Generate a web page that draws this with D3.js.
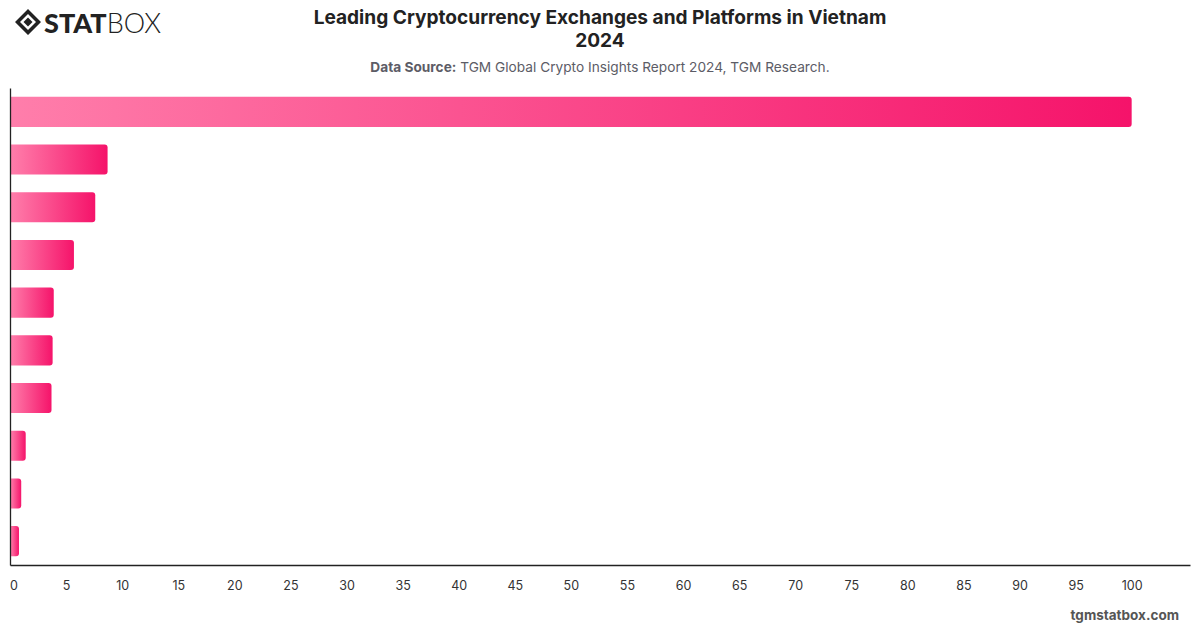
<!DOCTYPE html>
<html><head><meta charset="utf-8">
<script src="https://cdn.jsdelivr.net/npm/d3@7"></script>
<style>body{margin:0;background:#fff}svg{display:block}</style>
</head><body>
<svg id="c" width="1200" height="628"></svg>
<script>
const categories = ["Exchange 1","Exchange 2","Exchange 3","Exchange 4","Exchange 5","Exchange 6","Exchange 7","Exchange 8","Exchange 9","Exchange 10"];
const values = [100, 8.7, 7.6, 5.7, 3.9, 3.8, 3.7, 1.4, 1.0, 0.8];
const xTicks = [0,5,10,15,20,25,30,35,40,45,50,55,60,65,70,75,80,85,90,95,100];
const titleLines = ["Leading Cryptocurrency Exchanges and Platforms in Vietnam","2024"];
const sourceLabel = "Data Source:";
const sourceText = " TGM Global Crypto Insights Report 2024, TGM Research.";
const footer = "tgmstatbox.com";

const svg = d3.select("#c");
const font = "Inter, 'Noto Sans', sans-serif";
const m = {left:10, right:1190, top:88, bottom:565};
const x = d3.scaleLinear().domain([0,105.2]).range([m.left, m.right]);
const y = d3.scaleBand().domain(categories).range([m.top, m.bottom]).paddingInner(0.37).paddingOuter(0.185);

const defs = svg.append("defs");
const g = defs.append("linearGradient").attr("id","barGrad").attr("x1","0").attr("x2","1").attr("y1","0").attr("y2","0");
g.append("stop").attr("offset","0").attr("stop-color","#ff7eab");
g.append("stop").attr("offset","1").attr("stop-color","#f5136a");

// bars: square left, rounded right
const r = 3;
svg.append("g").selectAll("path").data(values).join("path")
  .attr("fill","url(#barGrad)")
  .attr("d",(d,i)=>{
    const x0 = x(0)+0.5, x1 = x(d), y0 = y(categories[i]), h = y.bandwidth();
    const rr = Math.min(r, (x1-x0)/2);
    return `M${x0},${y0}H${x1-rr}Q${x1},${y0} ${x1},${y0+rr}V${y0+h-rr}Q${x1},${y0+h} ${x1-rr},${y0+h}H${x0}Z`;
  });

// axes
const xa = svg.append("g").attr("transform",`translate(0,${m.bottom})`)
  .call(d3.axisBottom(x).tickValues(xTicks).tickSize(0).tickPadding(16));
xa.select(".domain").attr("stroke","#222").attr("stroke-width",1.3);
xa.selectAll("text").attr("font-family",font).attr("font-size",12.5).attr("fill","#333");
xa.selectAll(".tick").filter(d=>d===0).select("text").attr("dx",3.5);

const ya = svg.append("g").attr("transform",`translate(${m.left},0)`)
  .call(d3.axisLeft(y).tickSize(0).tickFormat(""));
ya.select(".domain").attr("stroke","#222").attr("stroke-width",1.3);

// title
svg.append("text").attr("x",600).attr("y",24).attr("text-anchor","middle")
  .attr("font-family",font).attr("font-weight",700).attr("font-size",19.1).attr("fill","#222")
  .selectAll("tspan").data(titleLines).join("tspan")
  .attr("x",600).attr("dy",(d,i)=>i?23:0).text(d=>d);

const st = svg.append("text").attr("x",600).attr("y",72).attr("text-anchor","middle")
  .attr("font-family",font).attr("font-size",13.7).attr("fill","#5c5c66");
st.append("tspan").attr("font-weight",700).text(sourceLabel);
st.append("tspan").text(sourceText);

svg.append("text").attr("x",1179).attr("y",620).attr("text-anchor","end")
  .attr("font-family",font).attr("font-weight",700).attr("font-size",13.5).attr("fill","#555").text(footer);

// logo
const lg = svg.append("g").attr("transform","translate(15,9)");
lg.append("path").attr("d","M13,0 L26,13 L13,26 L0,13 Z M13,5 L21,13 L13,21 L5,13 Z").attr("fill","#222").attr("fill-rule","evenodd");
lg.append("path").attr("d","M13,8.5 L17.5,13 L13,17.5 L8.5,13 Z").attr("fill","#222");
const lt = lg.append("text").attr("x",29).attr("y",24).attr("font-size",27).attr("fill","#222");
lt.append("tspan").attr("font-weight",900).attr("font-family","Lato, sans-serif").attr("letter-spacing",0).text("STAT");
lt.append("tspan").attr("font-weight",300).attr("font-family","Lato, sans-serif").text("BOX");
</script>
</body></html>
